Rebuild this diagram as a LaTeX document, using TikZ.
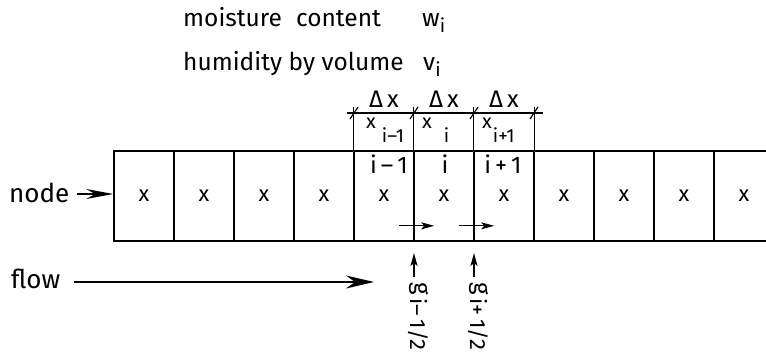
\documentclass[tikz,border=0pt]{standalone}
\usepackage{fontspec}
\setmainfont{Fira Sans}
\usetikzlibrary{arrows.meta}
\newcommand{\lowidx}[3]{\raisebox{#1}{\fontsize{#2}{#2}\selectfont #3}}

\begin{document}
\begin{tikzpicture}[x=1pt,y=-1pt,
    cell/.style={draw,line width=1.6pt,minimum width=60pt,minimum height=90pt,
                 inner sep=0pt,font=\fontsize{22}{24}\selectfont},
    big/.style={inner sep=0pt,font=\fontsize{26}{30}\selectfont},
    head/.style={inner sep=0pt,font=\fontsize{24.5}{28}\selectfont},
    mid/.style={inner sep=0pt,font=\fontsize{24}{26}\selectfont},
    small/.style={inner sep=0pt,font=\fontsize{20}{22}\selectfont},
    dim/.style={line width=1.2pt},
    bigtip/.style={line width=1.3pt,-{Stealth[length=27pt,width=10pt,inset=9pt]}},
    flowtip/.style={line width=1.3pt,-{Stealth[length=28pt,width=13pt,inset=9pt]}},
    smalltip/.style={line width=1.2pt,-{Stealth[length=13pt,width=7pt,inset=3pt]}}]
    \useasboundingbox (0,0) rectangle (766,355);
    % title lines
    \node[head,anchor=base west] (mc) at (183,27) {moisture\hspace{14pt}content};
    \node[head,anchor=base west] (wi) at (422,27) {w\lowidx{-6pt}{19}{i}};
    \node[head,anchor=base west] (hv) at (183,71) {humidity by volume};
    \node[head,anchor=base west] (vi) at (423,71) {v\lowidx{-6pt}{19}{i}};
    % row of cells
    \foreach \k in {0,...,10}
      \node[cell] (c\k) at (144+60*\k,196) {x};
    \node[mid] (n4) at (389,164) {i\,–\,1};
    \node[mid] (n5) at (445,164) {i};
    \node[mid] (n6) at (503,164) {i\,+\,1};
    % dimension over the cells i-1, i, i+1
    \foreach \k in {4,5,6}
      \draw[dim] (c\k.north west) -- ++(0,-43);
    \draw[dim] (c6.north east) -- ++(0,-43);
    \draw[dim] (347,113) -- (543,113);
    \foreach \x in {354,414,474,534}
      \draw[dim] (\x-4,119) -- (\x+4,107);
    \foreach \k/\x in {4/384,5/444,6/504}
      \node[mid,anchor=base] (dx\k) at (\x,108) {Δ\,x};
    \node[small,anchor=base west] (x4) at (366,129) {x\lowidx{-14pt}{19}{\hspace{6pt}i–1}};
    \node[small,anchor=base west] (x5) at (422,129) {x\lowidx{-14pt}{19}{\hspace{12pt}i}};
    \node[small,anchor=base west] (x6) at (482,129) {x\lowidx{-14pt}{19}{\hspace{1pt}i+1}};
    % node and flow
    \node[big,anchor=base west] (nd) at (9,203) {node};
    \draw[bigtip] ([xshift=7pt,yshift=2pt]nd.east |- c0.west) -- ([yshift=2pt]c0.west);
    \node[big,anchor=base west] (fl) at (11,289) {flow};
    \coordinate (fe) at (374,282);
    \draw[flowtip] ([xshift=14pt]fl.east |- fe) -- (fe);
    % fluxes at the cell faces
    \foreach \k in {5,6}
      \draw[smalltip] ([xshift=-14pt,yshift=16pt]c\k.south west) -- ++(35,0);
    \node[mid,rotate=-90,anchor=base west] (g5) at (414,282) {g\lowidx{-4pt}{22}{\,i–\,1/2}};
    \node[mid,rotate=-90,anchor=base west] (g6) at (474,282) {g\lowidx{-4pt}{22}{\,i+\,1/2}};
    \foreach \k in {5,6}
      \draw[smalltip] ([yshift=5pt]g\k.base west) -- ++(0,-24);
\end{tikzpicture}
\end{document}
